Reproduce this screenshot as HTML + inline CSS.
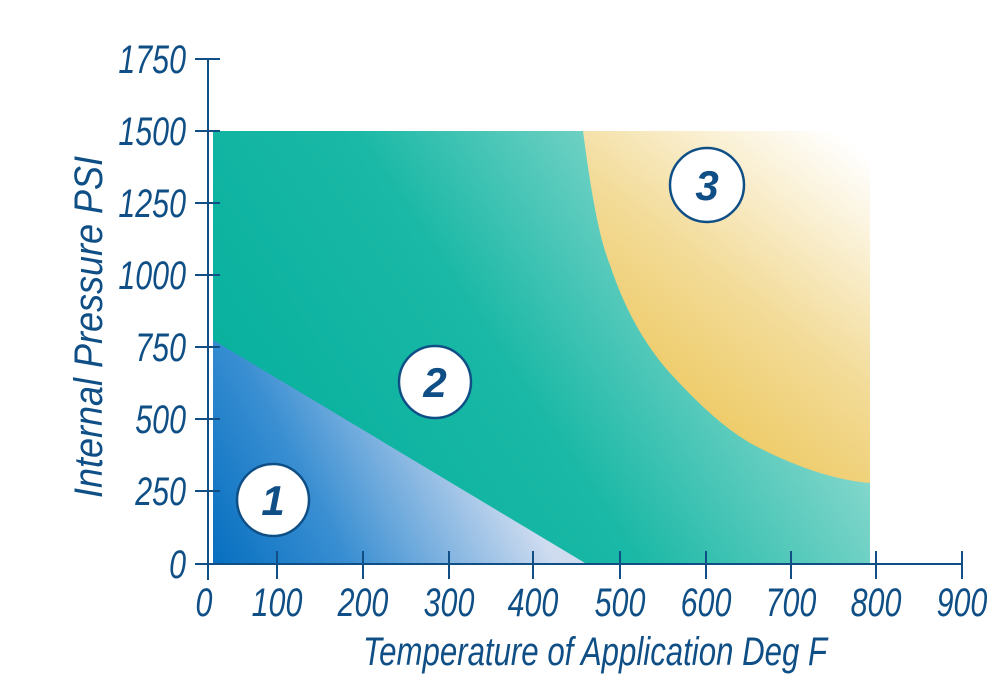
<!DOCTYPE html>
<html><head><style>
html,body{margin:0;padding:0;background:#fff;}
svg text{font-family:"Liberation Sans",sans-serif;font-style:italic;fill:#0f4f86;}
</style></head><body>
<svg width="1000" height="686" viewBox="0 0 1000 686" xmlns="http://www.w3.org/2000/svg">
<defs>
<linearGradient id="gg" x1="213" y1="563" x2="870" y2="131" gradientUnits="userSpaceOnUse">
<stop offset="0" stop-color="#00ae9a"/><stop offset="0.45" stop-color="#1ab8a6"/><stop offset="1" stop-color="#d6efe9"/></linearGradient>
<linearGradient id="bg" x1="213" y1="563" x2="480" y2="420" gradientUnits="userSpaceOnUse">
<stop offset="0" stop-color="#066fc0"/><stop offset="0.4" stop-color="#3a8fd2"/><stop offset="1" stop-color="#cfdcf0"/></linearGradient>
<linearGradient id="yg" x1="640" y1="440" x2="860" y2="150" gradientUnits="userSpaceOnUse">
<stop offset="0" stop-color="#ecc452"/><stop offset="0.5" stop-color="#f3dc9a"/><stop offset="1" stop-color="#ffffff"/></linearGradient>
</defs>
<rect x="213" y="131" width="657" height="432" fill="url(#gg)"/>
<path d="M213,340 L585,563 L213,563 Z" fill="url(#bg)"/>
<path d="M583,131 C592,200 600,240 610,265 C625,310 645,345 670,373 C695,400 720,425 750,443 C785,462 830,480 870,483 L870,131 Z" fill="url(#yg)"/>
<g stroke="#0f4f86" stroke-width="2" fill="none">
<line x1="208" y1="59" x2="208" y2="580"/>
<line x1="195" y1="564" x2="962" y2="564"/>
<line x1="195" y1="59" x2="220" y2="59"/>
<line x1="195" y1="131" x2="220" y2="131"/>
<line x1="195" y1="203" x2="220" y2="203"/>
<line x1="195" y1="275" x2="220" y2="275"/>
<line x1="195" y1="347" x2="220" y2="347"/>
<line x1="195" y1="419" x2="220" y2="419"/>
<line x1="195" y1="491" x2="220" y2="491"/>
<line x1="277" y1="551" x2="277" y2="579"/>
<line x1="363" y1="551" x2="363" y2="579"/>
<line x1="449" y1="551" x2="449" y2="579"/>
<line x1="533" y1="551" x2="533" y2="579"/>
<line x1="620" y1="551" x2="620" y2="579"/>
<line x1="706" y1="551" x2="706" y2="579"/>
<line x1="791" y1="551" x2="791" y2="579"/>
<line x1="876" y1="551" x2="876" y2="579"/>
<line x1="962" y1="551" x2="962" y2="579"/>
</g>
<g font-size="40" text-anchor="end">
<text x="186" y="73" transform="translate(186 0) scale(0.76 1) translate(-186 0)">1750</text>
<text x="186" y="145" transform="translate(186 0) scale(0.76 1) translate(-186 0)">1500</text>
<text x="186" y="217" transform="translate(186 0) scale(0.76 1) translate(-186 0)">1250</text>
<text x="186" y="289" transform="translate(186 0) scale(0.76 1) translate(-186 0)">1000</text>
<text x="186" y="361" transform="translate(186 0) scale(0.76 1) translate(-186 0)">750</text>
<text x="186" y="433" transform="translate(186 0) scale(0.76 1) translate(-186 0)">500</text>
<text x="186" y="505" transform="translate(186 0) scale(0.76 1) translate(-186 0)">250</text>
<text x="186" y="578" transform="translate(186 0) scale(0.76 1) translate(-186 0)">0</text>
</g>
<g font-size="40" text-anchor="middle">
<text x="204" y="616" transform="translate(204 0) scale(0.76 1) translate(-204 0)">0</text>
<text x="277" y="616" transform="translate(277 0) scale(0.76 1) translate(-277 0)">100</text>
<text x="363" y="616" transform="translate(363 0) scale(0.76 1) translate(-363 0)">200</text>
<text x="449" y="616" transform="translate(449 0) scale(0.76 1) translate(-449 0)">300</text>
<text x="533" y="616" transform="translate(533 0) scale(0.76 1) translate(-533 0)">400</text>
<text x="620" y="616" transform="translate(620 0) scale(0.76 1) translate(-620 0)">500</text>
<text x="706" y="616" transform="translate(706 0) scale(0.76 1) translate(-706 0)">600</text>
<text x="791" y="616" transform="translate(791 0) scale(0.76 1) translate(-791 0)">700</text>
<text x="876" y="616" transform="translate(876 0) scale(0.76 1) translate(-876 0)">800</text>
<text x="962" y="616" transform="translate(962 0) scale(0.76 1) translate(-962 0)">900</text>
</g>
<text x="595" y="665" font-size="40" text-anchor="middle" transform="translate(595 0) scale(0.78 1) translate(-595 0)">Temperature of Application Deg F</text>
<text x="0" y="0" font-size="40" text-anchor="middle" transform="translate(102 327) rotate(-90) scale(0.9 1)">Internal Pressure PSI</text>
<g stroke="#0f4f86" stroke-width="2.5" fill="#fff">
<circle cx="273" cy="500" r="36"/>
<circle cx="435" cy="382" r="36"/>
<circle cx="707" cy="185" r="37"/>
</g>
<g font-size="42" font-weight="bold" text-anchor="middle">
<text x="273" y="515">1</text>
<text x="435" y="397">2</text>
<text x="707" y="200">3</text>
</g>
</svg>
</body></html>
